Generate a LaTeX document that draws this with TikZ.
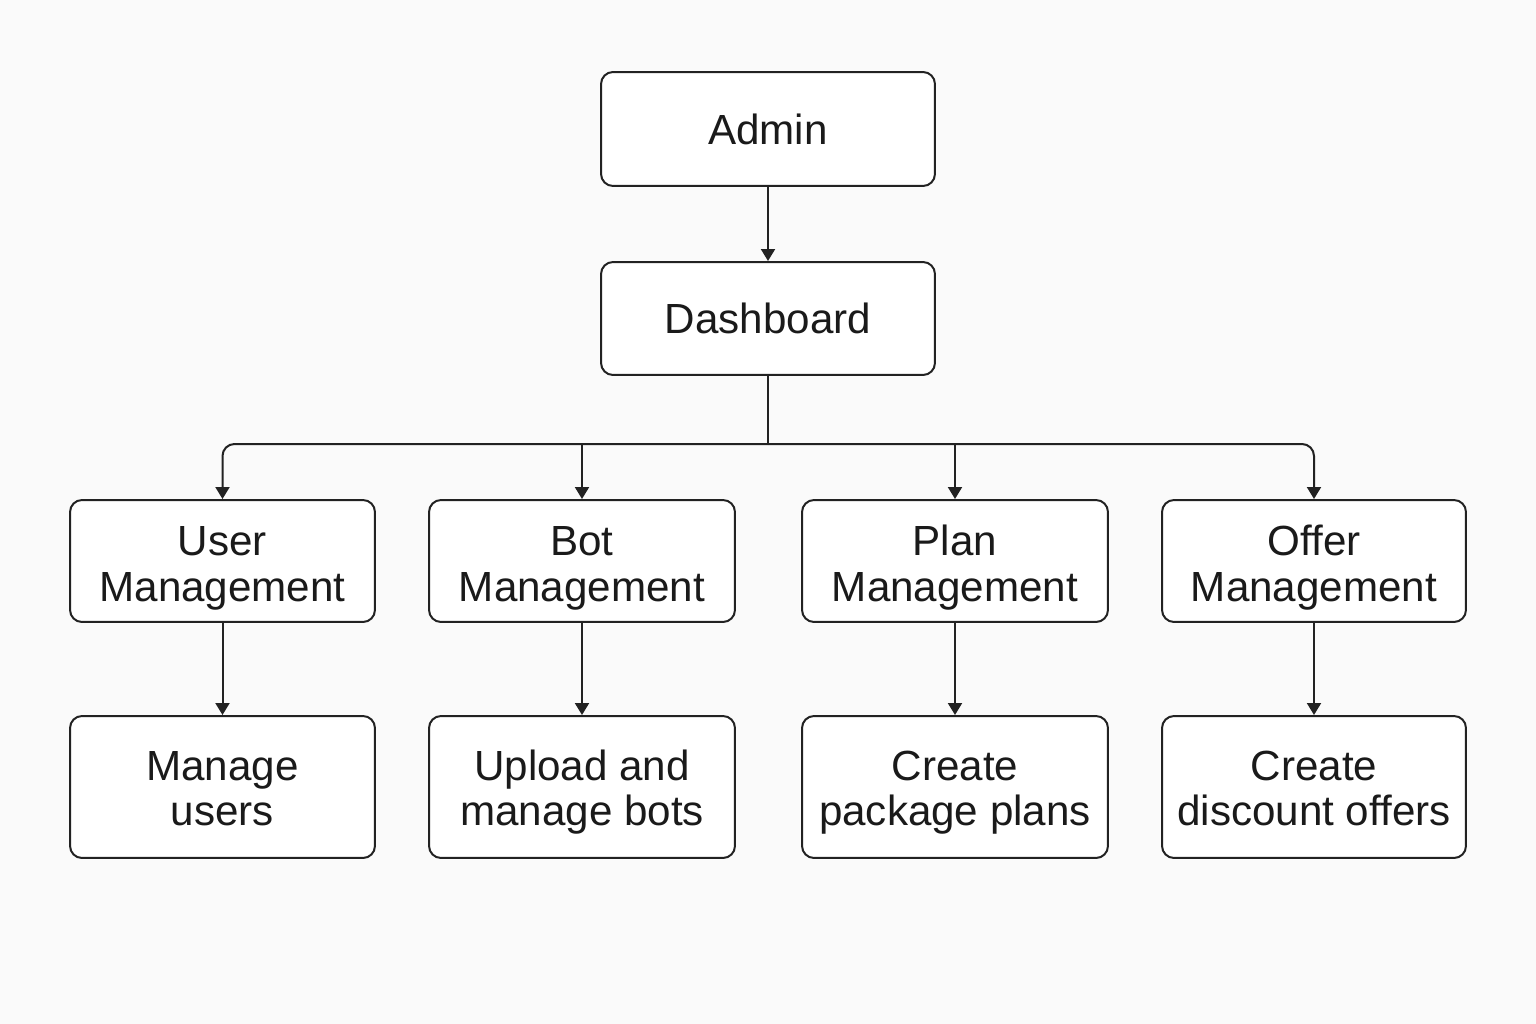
\documentclass[tikz,border=0pt]{standalone}
\usepackage{fontspec}
\setmainfont{Liberation Sans}
\usetikzlibrary{arrows.meta}
\usetikzlibrary{calc}
\definecolor{bgcolor}{HTML}{FAFAFA}
\definecolor{linecolor}{HTML}{222222}
\definecolor{textcolor}{HTML}{1A1A1A}
\newcommand{\toprow}{\rule{0pt}{25pt}}
\newcommand{\lowrow}{\rule{0pt}{23.5pt}}
\newcommand{\lowend}{\rule[-5.2pt]{0pt}{0pt}}

\begin{document}
\begin{tikzpicture}[x=0.02cm, y=-0.02cm,
    block/.style={draw=linecolor, fill=white, line width=0.4mm, rounded corners=2.4mm,
        align=center, text=textcolor, inner sep=0pt,
        font=\fontsize{24}{26}\selectfont},
    link/.style={draw=linecolor, line width=0.4mm, -{Triangle[width=2.8mm, length=2.4mm]}}]
    % page
    \fill [bgcolor] (0,0) rectangle (1536,1024);
    \useasboundingbox (0,0) rectangle (1536,1024);
    % top
    \node [block, minimum width=6.68cm, minimum height=2.28cm] (admin) at (768, 129) {Admin};
    \node [block, minimum width=6.68cm, minimum height=2.26cm] (dashboard) at (768, 318.5) {Dashboard};
    \draw [link] (admin) -- (dashboard);
    % modules
    \node [block, minimum width=6.1cm, minimum height=2.44cm] (user) at (222.5, 561) {\toprow User\\Management};
    \node [block, minimum width=6.12cm, minimum height=2.44cm] (bot) at (582, 561) {\toprow Bot\\Management};
    \node [block, minimum width=6.12cm, minimum height=2.44cm] (plan) at (955, 561) {\toprow Plan\\Management};
    \node [block, minimum width=6.08cm, minimum height=2.44cm] (offer) at (1314, 561) {\toprow Offer\\Management};
    \coordinate (bus) at (768, 444);
    \draw [draw=linecolor, line width=0.4mm] (dashboard) -- (bus);
    \draw [link, rounded corners=2.4mm] (bus) -| (user);
    \draw [link, rounded corners=2.4mm] (bus) -| (offer);
    \draw [link] (bot.north |- bus) -- (bot);
    \draw [link] (plan.north |- bus) -- (plan);
    % tasks
    \node [block, minimum width=6.1cm, minimum height=2.84cm] (users) at (222.5, 787) {\lowrow Manage\\users\lowend};
    \node [block, minimum width=6.12cm, minimum height=2.84cm] (bots) at (582, 787) {\lowrow Upload and\\manage bots\lowend};
    \node [block, minimum width=6.12cm, minimum height=2.84cm] (plans) at (955, 787) {\lowrow Create\\package plans\lowend};
    \node [block, minimum width=6.08cm, minimum height=2.84cm] (offers) at (1314, 787) {\lowrow Create\\discount offers\lowend};
    \draw [link] (user) -- (users);
    \draw [link] (bot) -- (bots);
    \draw [link] (plan) -- (plans);
    \draw [link] (offer) -- (offers);
\end{tikzpicture}
\end{document}
